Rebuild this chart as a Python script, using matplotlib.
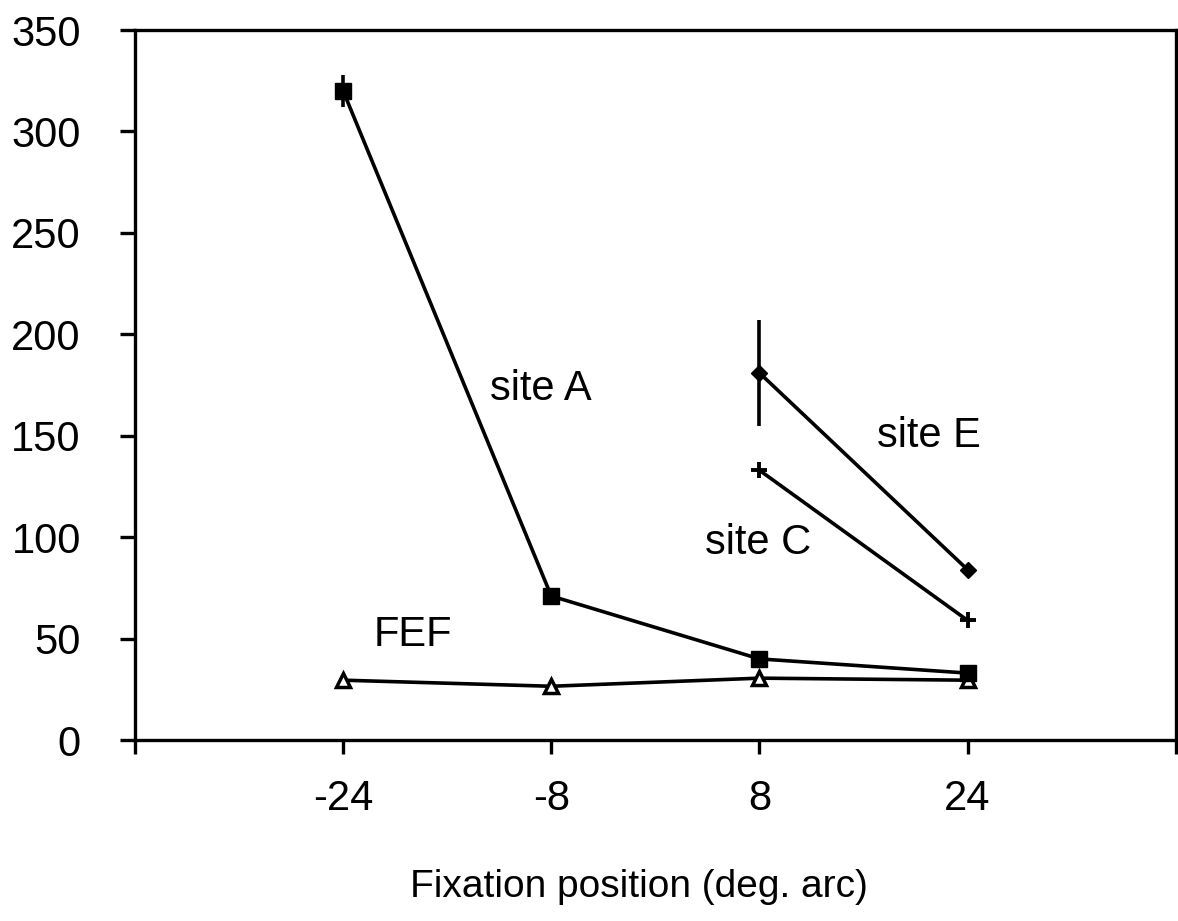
import matplotlib
matplotlib.use("Agg")
from matplotlib import pyplot as plt

plt.rcParams['font.family'] = ['Liberation Sans', 'DejaVu Sans']

# data
positions = [-24, -8, 8, 24]
site_a = [320, 71, 40, 33]
site_a_err = [8, 0, 0, 0]
fef = [29.5, 26.5, 30.5, 29.5]
site_e_x = [8, 24]
site_e = [181, 84]
site_e_err = [26, 0]
site_c_x = [8, 24]
site_c = [133, 59]

tick_labels = ["", "-24", "-8", "8", "24", ""]
tick_pos = [-40, -24, -8, 8, 24, 40]

fig = plt.figure(figsize=(11.78, 9.21), dpi=100)
ax = fig.add_axes([0.1146, 0.1965, 0.998 - 0.1146, 0.9674 - 0.1965])

lw = 2.6
# site A
ax.errorbar(positions, site_a, yerr=site_a_err, color="black", lw=lw,
            marker="s", markersize=11.5, elinewidth=lw, capsize=0)
# FEF
ax.plot(positions, fef, color="black", lw=lw, marker="^", markersize=10,
        markerfacecolor="white", markeredgewidth=2.5)
# site E
ax.errorbar(site_e_x, site_e, yerr=site_e_err, color="black", lw=lw,
            marker="D", markersize=8, elinewidth=lw, capsize=0)
# site C
ax.plot(site_c_x, site_c, color="black", lw=lw, marker="+", markersize=12,
        markeredgewidth=2.8)

fs = 30
ax.text(-8.8, 173, "site A", fontsize=fs, ha="center", va="center")
ax.text(21.0, 150, "site E", fontsize=fs, ha="center", va="center")
ax.text(7.9, 97, "site C", fontsize=fs, ha="center", va="center")
ax.text(-18.6, 52, "FEF", fontsize=fs, ha="center", va="center")

ax.set_xlim(-40, 40)
ax.set_ylim(0, 350)
ax.set_xticks(tick_pos)
ax.set_xticklabels(tick_labels)
ax.set_yticks(range(0, 351, 50))

for sp in ax.spines.values():
    sp.set_linewidth(2.4)

ax.tick_params(axis="x", direction="out", length=10, width=2.4, labelsize=30, pad=18)
ax.tick_params(axis="y", direction="out", length=11, width=2.4, labelsize=30, pad=28)
ax.set_xlabel("Fixation position (deg. arc)", fontsize=28)
ax.xaxis.set_label_coords(0.484, -0.182)

fig.savefig("out.png", dpi=100)
